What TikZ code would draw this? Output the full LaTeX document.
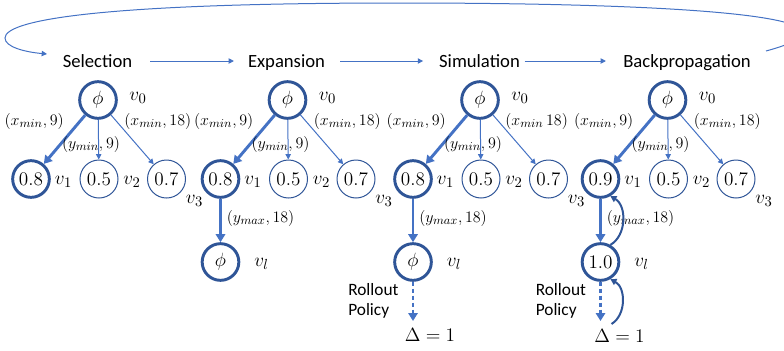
\documentclass[tikz,border=0pt]{standalone}
\usepackage[no-math]{fontspec}
\setmainfont{Carlito}
\usepackage{xcolor}
\usepackage{tikz}
\usetikzlibrary{arrows.meta, positioning}
\definecolor{lineblue}{HTML}{4472C4}
\definecolor{ringblue}{HTML}{2F5597}

\begin{document}
\begin{tikzpicture}[
  x=0.75pt, y=-0.75pt,
  ring/.style={circle, draw=ringblue, line width=2.2pt, minimum size=27.5pt, inner sep=0pt, font=\fontsize{14}{16}\selectfont},
  thinring/.style={ring, line width=0.75pt, minimum size=28.5pt},
  stage/.style={anchor=base, text height=9pt, text depth=0pt, font=\fontsize{14}{16}\selectfont},
  tag/.style={font=\fontsize{15}{17}\selectfont},
  pair/.style={inner sep=0pt, font=\fontsize{12.5}{15}\selectfont},
  note/.style={align=left, anchor=west, inner sep=0pt, font=\fontsize{13}{15.5}\selectfont},
  edge/.style={-{Triangle[length=4pt, width=4pt]}, lineblue, line width=0.75pt},
  best/.style={-{Triangle[length=6pt, width=7pt]}, lineblue, line width=2.2pt},
  roll/.style={best, dash pattern=on 3pt off 2.2pt},
  back/.style={-{Triangle[length=4.5pt, width=5pt]}, ringblue, line width=1.5pt, bend right=60}
]
\useasboundingbox (0,0) rectangle (784,350);

% the four phases
\node[stage] (sel) at (97.5,67) {Selection};
\node[stage] (exp) at (286.5,67) {Expansion};
\node[stage] (sim) at (479.5,67) {Simulation};
\node[stage] (bp) at (687,67) {Backpropagation};

\draw[edge, shorten <=10pt, shorten >=7pt] (sel) -- (exp);
\draw[edge, shorten <=8pt, shorten >=8.5pt] (exp) -- (sim);
\draw[edge, shorten <=0pt, shorten >=9.5pt] (sim) -- (bp);

% loop back to selection
\coordinate (loopout) at (766,51);
\coordinate (loopin) at (47,54);
\draw[edge] (loopout) .. controls (880,20) and (720,3) .. (400,3)
  .. controls (100,3) and (5,20) .. (5,38)
  .. controls (5,47) and (25,52) .. (loopin);

% selection
\begin{scope}[shift={(98,0)}]
\node[ring] (r1) at (0,100) {$\phi$};
\node[ring] (a1) at (-67,179) {$0.8$};
\node[thinring] (b1) at (1,179) {$0.5$};
\node[thinring] (c1) at (68.5,179) {$0.7$};
\node[tag] (v01) at (40,98) {$v_0$};
\node[tag] (v11) at (-34.5,182) {$v_1$};
\node[tag] (v21) at (34,182) {$v_2$};
\node[tag] (v31) at (96.5,201) {$v_3$};
\draw[best] (r1) -- (a1);
\draw[edge] (r1) -- (b1);
\draw[edge] (r1) -- (c1);
\node[pair, anchor=east] (p1) at (-34,121) {$(x_{min}, 9)$};
\node[pair] (q1) at (-7,144) {$(y_{min}, 9)$};
\node[pair, anchor=west] (s1) at (26,121) {$(x_{min}, 18)$};
\end{scope}

% expansion
\begin{scope}[shift={(287.5,0)}]
\node[ring] (r2) at (0,100) {$\phi$};
\node[ring] (a2) at (-67,179) {$0.8$};
\node[thinring] (b2) at (1,179) {$0.5$};
\node[thinring] (c2) at (68.5,179) {$0.7$};
\node[ring] (l2) at (-67,262) {$\phi$};
\node[tag] (v02) at (40,98) {$v_0$};
\node[tag] (v12) at (-34.5,182) {$v_1$};
\node[tag] (v22) at (34,182) {$v_2$};
\node[tag] (v32) at (96.5,201) {$v_3$};
\node[tag] (vl2) at (-26,264) {$v_l$};
\draw[best] (r2) -- (a2);
\draw[edge] (r2) -- (b2);
\draw[edge] (r2) -- (c2);
\draw[best] (a2) -- (l2);
\node[pair, anchor=east] (p2) at (-34,121) {$(x_{min}, 9)$};
\node[pair] (q2) at (-7,144) {$(y_{min}, 9)$};
\node[pair, anchor=west] (s2) at (26,121) {$(x_{min}, 18)$};
\node[pair, anchor=west] (y2) at (-61,218) {$(y_{max}, 18)$};
\end{scope}

% simulation
\begin{scope}[shift={(480,0)}]
\node[ring] (r3) at (0,100) {$\phi$};
\node[ring] (a3) at (-67,179) {$0.8$};
\node[thinring] (b3) at (1,179) {$0.5$};
\node[thinring] (c3) at (68.5,179) {$0.7$};
\node[ring] (l3) at (-67,262) {$\phi$};
\node[tag] (v03) at (40,98) {$v_0$};
\node[tag] (v13) at (-34.5,182) {$v_1$};
\node[tag] (v23) at (34,182) {$v_2$};
\node[tag] (v33) at (96.5,201) {$v_3$};
\node[tag] (vl3) at (-26,264) {$v_l$};
\draw[best] (r3) -- (a3);
\draw[edge] (r3) -- (b3);
\draw[edge] (r3) -- (c3);
\draw[best] (a3) -- (l3);
\node[pair, anchor=east] (p3) at (-34,121) {$(x_{min}, 9)$};
\node[pair] (q3) at (-7,144) {$(y_{min}, 9)$};
\node[pair, anchor=west] (s3) at (25,121) {$(x_{min}\,18)$};
\node[pair, anchor=west] (y3) at (-61,218) {$(y_{max}, 18)$};
\node[note] (n3) at (-132,301) {Rollout\\Policy};
\coordinate (e3) at (-67,321);
\draw[roll] (l3) -- (e3);
\node[tag] (d3) at (-50,335) {$\Delta = 1$};
\end{scope}

% backpropagation
\begin{scope}[shift={(667.5,0)}]
\node[ring] (r4) at (0,100) {$\phi$};
\node[ring] (a4) at (-67,179) {$0.9$};
\node[thinring] (b4) at (1,179) {$0.5$};
\node[thinring] (c4) at (68.5,179) {$0.7$};
\node[ring] (l4) at (-67,262) {$1.0$};
\node[tag] (v04) at (40,98) {$v_0$};
\node[tag] (v14) at (-34.5,182) {$v_1$};
\node[tag] (v24) at (34,182) {$v_2$};
\node[tag] (v34) at (96.5,201) {$v_3$};
\node[tag] (vl4) at (-26,264) {$v_l$};
\draw[best] (r4) -- (a4);
\draw[edge] (r4) -- (b4);
\draw[edge] (r4) -- (c4);
\draw[best] (a4) -- (l4);
\node[pair, anchor=east] (p4) at (-34,121) {$(x_{min}, 9)$};
\node[pair] (q4) at (-7,144) {$(y_{min}, 9)$};
\node[pair, anchor=west] (s4) at (26,121) {$(x_{min}, 18)$};
\node[pair, anchor=west] (y4) at (-61,218) {$(y_{max}, 18)$};
\node[note] (n4) at (-132,301) {Rollout\\Policy};
\coordinate (e4) at (-67,321);
\draw[roll] (l4) -- (e4);
\node[tag] (d4) at (-48,336) {$\Delta = 1$};
\coordinate (u4) at (-56,324);
\draw[back] (u4) to (l4.-60);
\draw[back] (l4.60) to (a4.-60);
\end{scope}
\end{tikzpicture}
\end{document}
